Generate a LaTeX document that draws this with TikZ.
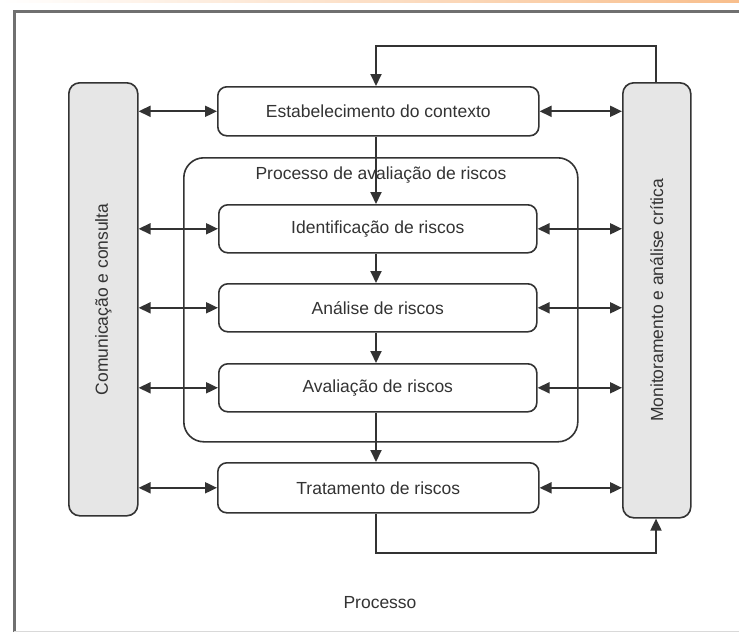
\documentclass[tikz,border=0pt]{standalone}
\usepackage{fontspec}
\setmainfont{Liberation Sans}
\usetikzlibrary{arrows.meta}
\definecolor{ln}{HTML}{333333}
\definecolor{frm}{HTML}{707070}
\definecolor{sidefill}{HTML}{E6E6E6}
\definecolor{txt}{HTML}{333333}
\definecolor{peach}{HTML}{F8BE8C}
\tikzset{
  x=1pt, y=-1pt,
  box/.style={draw=ln, line width=1.6pt, rounded corners=9pt, fill=white, anchor=north west, inner sep=0pt},
  sidebox/.style={draw=ln, line width=1.6pt, rounded corners=11pt, fill=sidefill, anchor=north west, inner sep=0pt},
  lbl/.style={font=\fontsize{17.5}{20}\selectfont, text=txt},
  conn/.style={draw=ln, line width=1.9pt},
  tip/.style={-{Triangle[length=12pt,width=11pt]}},
  dtip/.style={{Triangle[length=12pt,width=11pt]}-{Triangle[length=12pt,width=11pt]}},
}
\begin{document}
\begin{tikzpicture}
\useasboundingbox (0,0) rectangle (739,632);
% background tint
\shade[left color=white, right color=peach] (0,0) rectangle (739,3);
\fill[white] (0,3) rectangle (739,632);
% outer frame
\draw[frm, line width=3pt] (14,632) -- (14,11.5) -- (745,11.5);
\draw[gray!30, line width=1pt] (14,631) -- (739,631);

% side boxes
\node[sidebox, minimum width=69pt, minimum height=433pt] (com) at (68,82) {};
\node[lbl, rotate=90] at (com.center) {Comunicação e consulta};
\node[sidebox, minimum width=68pt, minimum height=435pt] (mon) at (622,82) {};
\node[lbl, rotate=90] at (mon.center) {Monitoramento e análise crítica};

% big process box
\node[draw=ln, line width=1.6pt, rounded corners=20pt, anchor=north west, inner sep=0pt,
      minimum width=394pt, minimum height=284pt] (proc) at (183,157) {};
\node[lbl, anchor=center] (proclbl) at (381,175) {Processo de avaliação de riscos};

% main boxes
\node[box, minimum width=321pt, minimum height=49pt] (est) at (217,86) {};
\node[lbl] at (est.center) {Estabelecimento do contexto};
\node[box, minimum width=318pt, minimum height=48pt] (ide) at (218,204) {};
\node[lbl] at (ide.center) {Identificação de riscos};
\node[box, minimum width=318pt, minimum height=48pt] (ana) at (218,283) {};
\node[lbl] at (ana.center) {Análise de riscos};
\node[box, minimum width=318pt, minimum height=48pt] (ava) at (218,363) {};
\node[lbl] at (ava.center) {Avaliação de riscos};
\node[box, minimum width=321pt, minimum height=50pt] (tra) at (217,462) {};
\node[lbl] at (tra.center) {Tratamento de riscos};

% vertical flow
\draw[conn, tip] (est.south -| 376,0) -- (ide.north -| 376,0);
\draw[conn, tip] (ide.south -| 376,0) -- (ana.north -| 376,0);
\draw[conn, tip] (ana.south -| 376,0) -- (ava.north -| 376,0);
\draw[conn, tip] (ava.south -| 376,0) -- (tra.north -| 376,0);

% feedback loops
\coordinate (topr) at (656,46);
\coordinate (topl) at (376,46);
\draw[conn, tip] (mon.north -| topr) -- (topr) -- (topl) -- (est.north -| topl);
\coordinate (botl) at (376,553);
\coordinate (botr) at (656,553);
\draw[conn, tip] (tra.south -| botl) -- (botl) -- (botr) -- (mon.south -| botr);

% horizontal double arrows
\foreach \b in {est,ide,ana,ava,tra}{
  \draw[conn, dtip] (com.east |- \b.center) -- (\b.west);
  \draw[conn, dtip] (\b.east) -- (mon.west |- \b.center);
}

\node[lbl] (title) at (380,603) {Processo};
\end{tikzpicture}
\end{document}
